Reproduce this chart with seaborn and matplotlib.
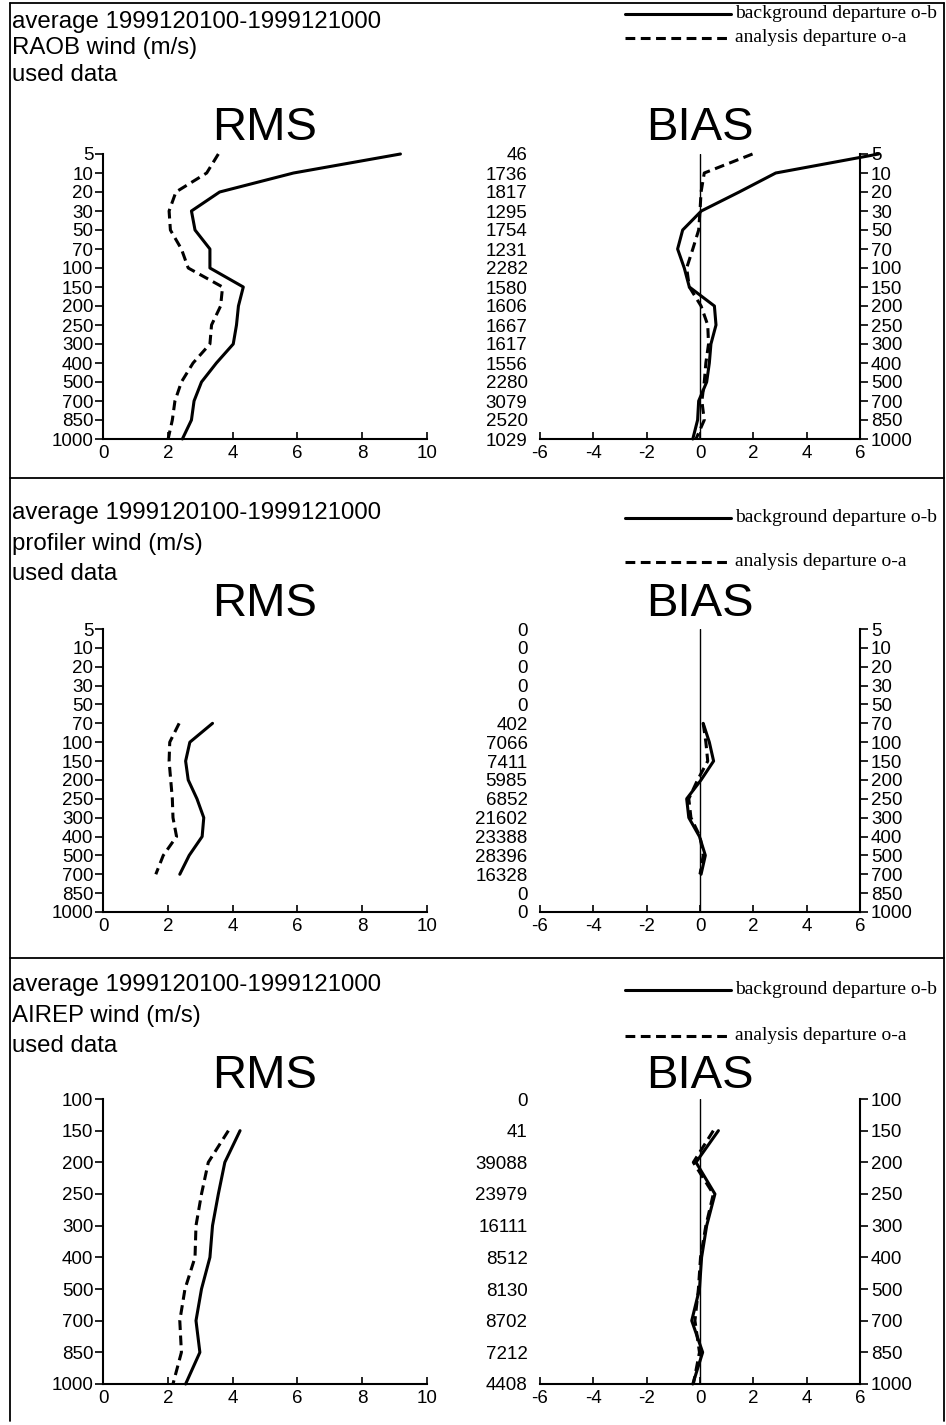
import numpy as np
import pandas as pd
import matplotlib
matplotlib.use('Agg')
import matplotlib.pyplot as plt
from matplotlib.lines import Line2D
import seaborn as sns

sns.set_style('ticks')
plt.rcParams['font.family'] = ['Liberation Sans', 'DejaVu Sans']
plt.rcParams['axes.unicode_minus'] = False
for key in ['text.color', 'axes.labelcolor', 'xtick.color', 'ytick.color', 'axes.edgecolor']:
    plt.rcParams[key] = 'black'

W, H = 946, 1425

# --- RAOB ---
raob_levels = [5, 10, 20, 30, 50, 70, 100, 150, 200, 250, 300, 400, 500, 700, 850, 1000]
raob_counts = [46, 1736, 1817, 1295, 1754, 1231, 2282, 1580, 1606, 1667, 1617, 1556, 2280, 3079, 2520, 1029]
raob_rms_ob = [9.18, 5.88, 3.6, 2.73, 2.84, 3.3, 3.3, 4.33, 4.18, 4.12, 4.02, 3.5, 3.04, 2.81, 2.73, 2.45]
raob_rms_oa = [3.56, 3.2, 2.25, 2.04, 2.08, 2.42, 2.63, 3.69, 3.63, 3.35, 3.3, 2.78, 2.42, 2.22, 2.14, 2.01]
raob_bias_ob = [6.7, 2.84, 1.47, 0.05, -0.65, -0.84, -0.59, -0.4, 0.54, 0.6, 0.41, 0.35, 0.25, -0.05, -0.09, -0.27]
raob_bias_oa = [1.97, 0.16, 0.04, 0.0, -0.05, -0.27, -0.5, -0.4, 0.04, 0.29, 0.32, 0.22, 0.16, 0.07, 0.16, -0.15]

# --- profiler ---
prof_levels = [5, 10, 20, 30, 50, 70, 100, 150, 200, 250, 300, 400, 500, 700, 850, 1000]
prof_counts = [0, 0, 0, 0, 0, 402, 7066, 7411, 5985, 6852, 21602, 23388, 28396, 16328, 0, 0]
prof_rms_ob = [None] * 5 + [3.38, 2.68, 2.55, 2.63, 2.9, 3.11, 3.06, 2.66, 2.37] + [None] * 2
prof_rms_oa = [None] * 5 + [2.35, 2.06, 2.04, 2.09, 2.14, 2.16, 2.27, 1.86, 1.63] + [None] * 2
prof_bias_ob = [None] * 5 + [0.12, 0.35, 0.51, 0.04, -0.5, -0.42, -0.02, 0.2, 0.04] + [None] * 2
prof_bias_oa = [None] * 5 + [0.12, 0.22, 0.29, -0.09, -0.42, -0.34, 0.0, 0.12, 0.0] + [None] * 2

# --- AIREP ---
airep_levels = [100, 150, 200, 250, 300, 400, 500, 700, 850, 1000]
airep_counts = [0, 41, 39088, 23979, 16111, 8512, 8130, 8702, 7212, 4408]
airep_rms_ob = [None, 4.23, 3.76, 3.56, 3.38, 3.3, 3.04, 2.87, 2.99, 2.55]
airep_rms_oa = [None, 3.87, 3.25, 3.04, 2.87, 2.84, 2.53, 2.37, 2.42, 2.16]
airep_bias_ob = [None, 0.69, -0.15, 0.56, 0.25, 0.06, -0.02, -0.31, 0.1, -0.27]
airep_bias_oa = [None, 0.5, -0.25, 0.5, 0.22, 0.02, -0.06, -0.19, -0.02, -0.25]

DASHES = {'o-b': '', 'o-a': (3.2, 1.8)}
LW = 2.2
TICK_FS = 13.5


def fx(px):
    return px / W


def fy(py):
    return 1 - py / H


def build_df(ob, oa):
    n = len(ob)
    df = pd.DataFrame({
        'pos': list(range(n)) * 2,
        'value': pd.to_numeric(pd.Series(list(ob) + list(oa)), errors='coerce'),
        'kind': ['o-b'] * n + ['o-a'] * n,
    })
    return df.dropna()


def draw_lines(ax, df):
    sns.lineplot(data=df, x='value', y='pos', style='kind', style_order=['o-b', 'o-a'],
                 dashes=DASHES, color='black', lw=LW, orient='y', sort=False,
                 estimator=None, legend=False, ax=ax, clip_on=False)
    ax.set_xlabel('')
    ax.set_ylabel('')


def panel(fig, title2, levels, counts, rms_ob, rms_oa, bias_ob, bias_oa,
          top, bot, text_y, head_y, leg_y):
    n = len(levels)
    hgt = (bot - top) / H

    # RMS
    ax = fig.add_axes([fx(103), fy(bot), (427 - 103) / W, hgt])
    draw_lines(ax, build_df(rms_ob, rms_oa))
    ax.set_xlim(0, 10)
    ax.set_ylim(n - 1, 0)
    ax.set_xticks(range(0, 11, 2))
    ax.set_yticks(range(n), [str(v) for v in levels])
    for s in ['top', 'right']:
        ax.spines[s].set_visible(False)
    for s in ['left', 'bottom']:
        ax.spines[s].set_linewidth(1.5)
    ax.tick_params(axis='y', direction='out', length=6, width=1.2, labelsize=TICK_FS, pad=1)
    ax.tick_params(axis='x', direction='in', length=5, width=1.2, labelsize=TICK_FS, pad=4)

    # BIAS
    bx = fig.add_axes([fx(540), fy(bot), (860 - 540) / W, hgt])
    bx.axvline(0, color='black', lw=1)
    draw_lines(bx, build_df(bias_ob, bias_oa))
    bx.set_xlim(-6, 6)
    bx.set_ylim(n - 1, 0)
    bx.set_xticks(range(-6, 7, 2))
    bx.set_yticks(range(n), [str(c) for c in counts])
    for s in ['top', 'right', 'left']:
        bx.spines[s].set_visible(False)
    bx.spines['bottom'].set_linewidth(1.5)
    bx.tick_params(axis='y', length=0, labelsize=TICK_FS, pad=9)
    bx.tick_params(axis='x', direction='in', length=5, width=1.2, labelsize=TICK_FS, pad=4)

    rx = bx.twinx()
    rx.set_ylim(n - 1, 0)
    rx.set_yticks(range(n), [str(v) for v in levels])
    for s in ['top', 'left', 'bottom']:
        rx.spines[s].set_visible(False)
    rx.spines['right'].set_linewidth(1.5)
    rx.tick_params(axis='y', direction='out', length=6, width=1.2, labelsize=TICK_FS, pad=2)

    # header texts
    lines = ['average 1999120100-1999121000', title2, 'used data']
    for t, y in zip(lines, text_y):
        fig.text(fx(12), fy(y), t, fontsize=17.3, va='center', ha='left')
    fig.text(fx(265), fy(head_y), 'RMS', fontsize=34, ha='center', va='center')
    fig.text(fx(700), fy(head_y), 'BIAS', fontsize=34, ha='center', va='center')

    # legend
    for y, kind, lab in zip(leg_y, ['o-b', 'o-a'],
                            ['background departure o-b', 'analysis departure o-a']):
        ls = '-' if kind == 'o-b' else (0, DASHES[kind])
        fig.add_artist(Line2D([fx(625), fx(731)], [fy(y), fy(y)], color='black',
                              lw=LW, linestyle=ls, transform=fig.transFigure))
        fig.text(fx(735), fy(y), lab, fontsize=14, va='center', ha='left',
                 family=['Liberation Serif', 'DejaVu Serif'])


fig = plt.figure(figsize=(W / 100, H / 100), dpi=100)

panel(fig, 'RAOB wind (m/s)', raob_levels, raob_counts, raob_rms_ob, raob_rms_oa,
      raob_bias_ob, raob_bias_oa, 154, 439, [22, 48, 75], 128, [14, 38])
panel(fig, 'profiler wind (m/s)', prof_levels, prof_counts, prof_rms_ob, prof_rms_oa,
      prof_bias_ob, prof_bias_oa, 629, 912, [513, 544, 574], 604, [518, 562])
panel(fig, 'AIREP wind (m/s)', airep_levels, airep_counts, airep_rms_ob, airep_rms_oa,
      airep_bias_ob, airep_bias_oa, 1099, 1384, [985, 1016, 1046], 1076, [990, 1036])

# frame and separators
for (x0, x1, y0, y1) in [(10, 10, 3, 1421), (10, 944, 3, 3), (944, 944, 3, 1421),
                         (10, 944, 478, 478), (10, 944, 958, 958)]:
    fig.add_artist(Line2D([fx(x0), fx(x1)], [fy(y0), fy(y1)], color='black', lw=1.3,
                          transform=fig.transFigure))

fig.savefig('out.png', dpi=100)
